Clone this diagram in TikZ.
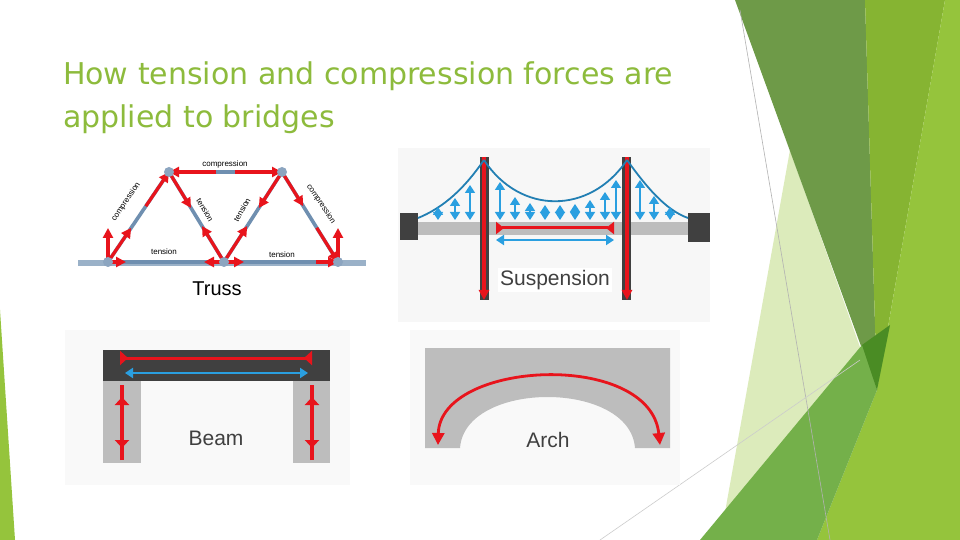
\documentclass[tikz,border=0pt]{standalone}
\usepackage{fontspec}
\setmainfont{Liberation Sans}
\newfontfamily\titlefont{DejaVu Sans}
\usetikzlibrary{arrows.meta,calc}
\definecolor{ttl}{HTML}{8DBB3C}
\definecolor{tred}{HTML}{E8141C}
\definecolor{tblue}{HTML}{2A9FE0}
\definecolor{steel}{HTML}{6F8FB0}
\definecolor{dgrey}{HTML}{404040}
\definecolor{lgrey}{HTML}{BDBDBD}
\definecolor{pale}{HTML}{DCEBBB}
\definecolor{gA}{HTML}{6E9A48}
\definecolor{gB}{HTML}{86B432}
\definecolor{gC}{HTML}{95C43C}
\definecolor{gD}{HTML}{74B04A}
\definecolor{gE}{HTML}{4A8C24}
\tikzset{
 redar/.style={tred,line width=1.6pt,-{Triangle[length=5pt,width=5pt]}},
 bluear/.style={tblue,line width=1.2pt,{Triangle[length=4pt,width=5pt]}-{Triangle[length=4pt,width=5pt]}},
 member/.style={steel,line width=1.8pt},
 joint/.style={circle,fill=steel!80,inner sep=0pt,minimum size=5pt},
 tiny/.style={font=\fontsize{4}{5}\selectfont,inner sep=0.5pt},
 lbl/.style={font=\fontsize{10}{12}\selectfont,text=black}
}
\begin{document}
\begin{tikzpicture}[x=0.5pt,y=-0.5pt]
\useasboundingbox (0,0) rectangle (960,540);
% background shapes
\fill[white] (0,0) rectangle (960,540);
\fill[pale] (790,150) -- (877,395) -- (745,540) -- (720,540) -- cycle;
\fill[gA] (735,0) -- (865,0) -- (877,390) -- cycle;
\fill[gB] (865,0) -- (945,0) -- (877,390) -- cycle;
\fill[gC] (945,0) -- (960,0) -- (960,540) -- (817,540) -- (877,390) -- cycle;
\fill[gD] (700,540) -- (862,345) -- (877,390) -- (817,540) -- cycle;
\fill[gE] (862,345) -- (890,325) -- (877,390) -- cycle;
\draw[gray!60,line width=0.3pt] (740,10) -- (830,540);
\draw[gray!40,line width=0.3pt] (600,540) -- (860,360);
\fill[gC] (0,310) -- (15,540) -- (0,540) -- cycle;
% title
\node[anchor=north west,align=left,text=ttl,font=\titlefont\fontsize{15}{21.5}\selectfont] (title) at (56,55) {How tension and compression forces are\\applied to bridges};
% ---------- Truss ----------
\coordinate (b1) at (108,262); \coordinate (b2) at (224,262); \coordinate (b3) at (338,262);
\coordinate (t1) at (169,172); \coordinate (t2) at (282,172);
\draw[steel!70,line width=3pt] (78,263) -- (366,263);
\draw[member] (b1)--(b3) (b1)--(t1)--(t2)--(b3) (t1)--(b2)--(t2);
\draw[redar] (b1) -- ($(b1)!0.38!(t1)$);
\draw[redar] ($(b1)!0.62!(t1)$) -- (t1);
\draw[redar] ($(t1)!0.42!(t2)$) -- (t1);
\draw[redar] ($(t1)!0.58!(t2)$) -- (t2);
\draw[redar] (t2) -- ($(t2)!0.38!(b3)$);
\draw[redar] ($(t2)!0.62!(b3)$) -- (b3);
\draw[redar] (t1) -- ($(t1)!0.4!(b2)$);
\draw[redar] (b2) -- ($(b2)!0.4!(t1)$);
\draw[redar] (t2) -- ($(t2)!0.4!(b2)$);
\draw[redar] (b2) -- ($(b2)!0.4!(t2)$);
\draw[redar] (b1) -- ++(18,0);
\draw[redar] (b2) -- ++(-20,0);
\draw[redar] (b2) -- ++(20,0);
\draw[redar] ($(b3)+(-22,0)$) -- (b3);
\draw[redar] (b1) -- ++(0,-34);
\draw[redar] (b3) -- ++(0,-34);
\foreach \n in {b1,b2,b3,t1,t2} \node[joint] (j\n) at (\n) {};
\node[tiny] (lc) at (225,164) {compression};
\node[tiny,rotate=56] (ll) at (126,202) {compression};
\node[tiny,rotate=-56] (lr) at (321,204) {compression};
\node[tiny,rotate=-60] (lt1) at (205,210) {tension};
\node[tiny,rotate=60] (lt2) at (242,210) {tension};
\node[tiny] (lb1) at (164,252) {tension};
\node[tiny] (lb2) at (282,255) {tension};
\node[lbl] (truss) at (217,289) {Truss};
% ---------- Suspension ----------
\fill[gray!6] (398,148) rectangle (710,322);
\fill[lgrey] (400,222) rectangle (710,235);
\fill[dgrey] (400,213) rectangle (418,240);
\fill[dgrey] (688,213) rectangle (710,242);
\fill[dgrey] (480,157) rectangle (489,300);
\fill[dgrey] (622,157) rectangle (631,300);
\draw[redar] (484,157) -- (484,300);
\draw[redar] (627,157) -- (627,300);
\draw[tblue!80!black,line width=0.9pt] (418,218) .. controls (450,205) and (470,180) .. (484,160);
\draw[tblue!80!black,line width=0.9pt] (484,160) .. controls (520,215) and (590,215) .. (627,160);
\draw[tblue!80!black,line width=0.9pt] (627,160) .. controls (645,185) and (665,210) .. (688,218);
\foreach \x/\t in {438/207,455/198,470/185,500/182,515/197,530/203,545/205,560/205,575/204,590/200,605/192,616/180,640/180,654/196,670/207}
  \draw[bluear,line width=0.8pt] (\x,\t) -- (\x,220);
\draw[tred,line width=1.5pt,{Triangle[reversed,length=4pt,width=6pt]}-{Triangle[reversed,length=4pt,width=6pt]}] (496,228) -- (614,228);
\draw[bluear] (496,240) -- (614,240);
\node[fill=white,inner sep=1pt,font=\fontsize{10.5}{12}\selectfont,text=dgrey] (susp) at (555,280) {Suspension};
% ---------- Beam ----------
\fill[gray!5] (65,330) rectangle (350,485);
\fill[dgrey] (103,350) rectangle (330,381);
\fill[lgrey] (103,381) rectangle (141,463);
\fill[lgrey] (293,381) rectangle (330,463);
\draw[tred,line width=1.5pt,{Triangle[reversed,length=4pt,width=7pt]}-{Triangle[reversed,length=4pt,width=7pt]}] (120,358) -- (312,358);
\draw[bluear] (125,373) -- (308,373);
\foreach \x in {122,312}{
  \draw[tred,line width=1.6pt,-{Triangle[reversed,length=4pt,width=7pt]}] (\x,385) -- (\x,405);
  \draw[tred,line width=1.6pt,-{Triangle[reversed,length=4pt,width=7pt]}] (\x,460) -- (\x,440);
  \draw[tred,line width=1.6pt] (\x,405) -- (\x,440);
}
\node[font=\fontsize{10.5}{12}\selectfont,text=dgrey] (beam) at (216,438) {Beam};
% ---------- Arch ----------
\fill[gray!5] (410,330) rectangle (680,485);
\fill[lgrey] (425,348) -- (670,348) -- (670,448) -- (635,448) .. controls (630,380) and (465,380) .. (460,448) -- (425,448) -- cycle;
\draw[tred,line width=1.4pt,{Triangle[length=6pt,width=6pt]}-{Triangle[length=6pt,width=6pt]}] (438,445) .. controls (440,360) and (650,350) .. (660,445);
\node[font=\fontsize{10.5}{12}\selectfont,text=dgrey] (arch) at (548,440) {Arch};
\end{tikzpicture}
\end{document}
